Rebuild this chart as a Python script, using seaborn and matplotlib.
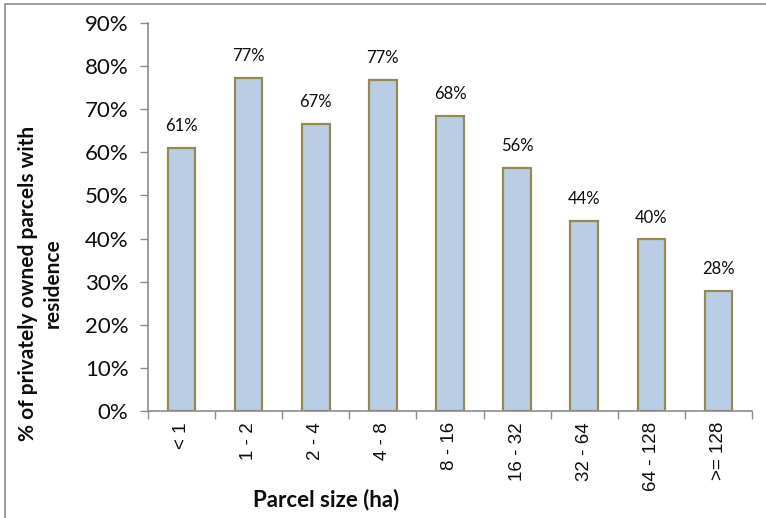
import matplotlib
matplotlib.use("Agg")
import matplotlib.pyplot as plt
import matplotlib.patches as mpatches
import seaborn as sns
import pandas as pd
from matplotlib.ticker import FuncFormatter, FixedLocator

categories = ["< 1", "1 - 2", "2 - 4", "4 - 8", "8 - 16", "16 - 32", "32 - 64", "64 - 128", ">= 128"]
values = [0.610, 0.772, 0.666, 0.768, 0.684, 0.564, 0.440, 0.398, 0.278]
ytick_values = [0.0, 0.1, 0.2, 0.3, 0.4, 0.5, 0.6, 0.7, 0.8, 0.9]

sns.set_theme(style="white")
plt.rcParams["font.family"] = ["Lato", "DejaVu Sans"]

df = pd.DataFrame({"size": categories, "share": values})

fig = plt.figure(figsize=(7.66, 5.18), dpi=100)
ax = fig.add_axes([148/766, 1 - 411/518, (752-148)/766, (411-23)/518])

sns.barplot(data=df, x="size", y="share", order=categories, ax=ax,
            color="#B9CDE5", edgecolor="#948A54", linewidth=1.6, width=0.41,
            saturation=1)

ax.set_ylim(0, 0.9)
ax.set_xlim(-0.5, len(categories) - 0.5)
ax.yaxis.set_major_locator(FixedLocator(ytick_values))
ax.yaxis.set_major_formatter(FuncFormatter(lambda v, p: f"{v*100:.0f}%"))

for spine in ["top", "right"]:
    ax.spines[spine].set_visible(False)
for spine in ["left", "bottom"]:
    ax.spines[spine].set_color("#8C8C8C")
    ax.spines[spine].set_linewidth(1.2)

ax.tick_params(axis="y", which="major", direction="out", length=6, width=1.0,
               color="#8C8C8C", labelsize=16, pad=8, left=True)
for lbl in ax.get_yticklabels():
    lbl.set_color("#0d0d0d")

ax.set_xticks(range(len(categories)))
ax.set_xticklabels(categories, rotation=90, fontsize=13.5,
                   fontfamily=["Liberation Sans", "DejaVu Sans"], color="#0d0d0d")
ax.tick_params(axis="x", which="major", length=0, pad=8)
ax.set_xticks([i - 0.5 for i in range(len(categories) + 1)], minor=True)
ax.tick_params(axis="x", which="minor", direction="out", length=6, width=1.0,
               color="#8C8C8C", bottom=True)

for i, v in enumerate(values):
    ax.annotate(f"{v*100:.0f}%", xy=(i, v), xytext=(0, 10), textcoords="offset points",
                ha="center", va="bottom", fontsize=12, color="#0d0d0d")

ax.set_xlabel("")
ax.set_ylabel("")

fig.text(40/766, 1 - 283/518, "% of privately owned parcels with\nresidence",
         rotation=90, ha="center", va="center", fontsize=15, fontweight="bold",
         color="#0d0d0d", linespacing=1.3, multialignment="center")
fig.text(326/766, 1 - 500/518, "Parcel size (ha)", ha="center", va="center",
         fontsize=16, fontweight="bold", color="#0d0d0d")

frame = mpatches.Rectangle((5/766, -0.05), 1.2, 1 - 4/518 + 0.05, transform=fig.transFigure,
                           fill=False, edgecolor="#8C8C8C", linewidth=1.2)
fig.patches.append(frame)

fig.savefig("out.png", dpi=100)
